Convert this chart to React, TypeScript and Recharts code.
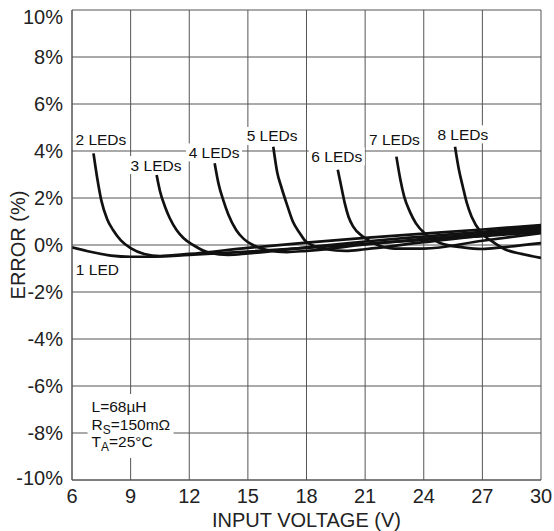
import {
  LineChart,
  Line,
  XAxis,
  YAxis,
  CartesianGrid,
  ReferenceDot,
} from "recharts";

const FONT = '"Liberation Sans", Arial, sans-serif';

const xTicks = [6, 9, 12, 15, 18, 21, 24, 27, 30];
const yTicks = [-10, -8, -6, -4, -2, 0, 2, 4, 6, 8, 10];

// [input voltage (V), error (%)]
const led1 = [
  [6, -0.1], [7, -0.3], [8, -0.45], [9, -0.5], [10, -0.5], [12, -0.42],
  [15, -0.28], [18, -0.12], [21, 0.05], [24, 0.22], [27, 0.38], [30, 0.55],
];
const led2 = [
  [7.1, 3.9], [7.3, 2.8], [7.5, 1.9], [7.8, 1.1], [8.1, 0.64], [8.5, 0.2],
  [9, -0.13], [9.7, -0.38], [10.5, -0.47], [12, -0.38], [15, -0.12],
  [18, 0.1], [21, 0.3], [24, 0.48], [27, 0.66], [30, 0.85],
];
const led3 = [
  [10.33, 2.98], [10.5, 2.3], [10.76, 1.63], [11.0, 1.15], [11.35, 0.64],
  [11.7, 0.3], [12.2, 0], [13.06, -0.34], [14, -0.42], [15, -0.36],
  [18, -0.1], [21, 0.15], [24, 0.36], [27, 0.56], [30, 0.78],
];
const led4 = [
  [13.3, 3.48], [13.5, 2.6], [13.74, 1.91], [14.0, 1.3], [14.4, 0.64],
  [14.8, 0.25], [15.26, 0], [16, -0.22], [17, -0.3], [18, -0.25],
  [21, 0.02], [24, 0.26], [27, 0.48], [30, 0.7],
];
const led5 = [
  [16.3, 4.18], [16.5, 3.1], [16.7, 2.5], [16.98, 1.77], [17.3, 1.0],
  [17.66, 0.5], [17.9, 0.21], [18.4, -0.05], [19, -0.18], [20, -0.25],
  [21, -0.18], [24, 0.12], [27, 0.4], [30, 0.62],
];
const led6 = [
  [19.6, 3.2], [19.8, 2.4], [19.96, 1.77], [20.15, 1.2], [20.39, 0.78],
  [20.9, 0.35], [21.5, 0.05], [22.5, -0.15], [24, -0.15], [27, 0.18],
  [30, 0.5],
];
const led7 = [
  [22.6, 3.76], [22.8, 2.8], [23.0, 2.06], [23.3, 1.4], [23.6, 0.92],
  [24.14, 0.43], [24.8, 0.1], [26, -0.1], [27, -0.17], [28, -0.1],
  [30, 0.08],
];
const led8 = [
  [25.6, 4.18], [25.8, 3.2], [26.0, 2.48], [26.2, 1.8], [26.45, 1.2],
  [26.96, 0.5], [27.5, 0.15], [28.2, -0.2], [29, -0.38], [30, -0.55],
];

const series = [led1, led2, led3, led4, led5, led6, led7, led8];

// curve tags: [label, voltage, error, box width]
const tags: [string, number, number, number][] = [
  ["1 LED", 7.3, -1.06, 44],
  ["2 LEDs", 7.48, 4.47, 56],
  ["3 LEDs", 10.3, 3.4, 56],
  ["4 LEDs", 13.27, 3.94, 56],
  ["5 LEDs", 16.24, 4.64, 56],
  ["6 LEDs", 19.55, 3.77, 56],
  ["7 LEDs", 22.5, 4.5, 56],
  ["8 LEDs", 26.0, 4.71, 56],
];

const toPoints = (s: number[][]) => s.map(([v, e]) => ({ v, e }));

const Tag = (text: string, w: number) => (props: any) => {
  const { cx, cy } = props;
  return (
    <g>
      <rect x={cx - w / 2} y={cy - 9} width={w} height={18} fill="#fff" />
      <text
        x={cx}
        y={cy}
        textAnchor="middle"
        dominantBaseline="central"
        fontSize={15.5}
        fontFamily={FONT}
        fill="#111"
      >
        {text}
      </text>
    </g>
  );
};

const Conditions = (props: any) => {
  const { cx, cy } = props;
  return (
    <g fontFamily={FONT} fontSize={15.5} fill="#111">
      <rect x={cx - 4} y={cy} width={86} height={64} fill="#fff" />
      <text x={cx} y={cy + 18}>L=68µH</text>
      <text x={cx} y={cy + 36}>
        R<tspan fontSize={12} dy={4}>S</tspan>
        <tspan dy={-4}>=150mΩ</tspan>
      </text>
      <text x={cx} y={cy + 53}>
        T<tspan fontSize={12} dy={4}>A</tspan>
        <tspan dy={-4}>=25°C</tspan>
      </text>
    </g>
  );
};

const YTick = (props: any) => {
  const { x, y, payload } = props;
  const shift = payload.value === 10 ? 7 : payload.value === -10 ? -2 : 0;
  return (
    <text
      x={x}
      y={y + shift}
      textAnchor="end"
      dominantBaseline="central"
      fontSize={20}
      fontFamily={FONT}
      fill="#222"
    >
      {payload.value}%
    </text>
  );
};

const XTick = (props: any) => {
  const { x, y, payload } = props;
  return (
    <text
      x={x}
      y={y + 8}
      textAnchor="middle"
      dominantBaseline="central"
      fontSize={20}
      fontFamily={FONT}
      fill="#222"
    >
      {payload.value}
    </text>
  );
};

export default function App() {
  return (
    <div style={{ position: "absolute", left: 0, top: 0, background: "#fff" }}>
      <LineChart
        width={554}
        height={531}
        margin={{ top: 10, right: 13, bottom: 11, left: 12 }}
      >
        <CartesianGrid stroke="#555" strokeWidth={1} />
        <XAxis
          dataKey="v"
          type="number"
          domain={[6, 30]}
          ticks={xTicks}
          allowDataOverflow
          tickLine={false}
          axisLine={{ stroke: "#555" }}
          tick={<XTick />}
          height={40}
          label={{
            content: (p: any) => {
              const vb = p.viewBox;
              return (
                <text
                  x={vb.x + vb.width / 2}
                  y={vb.y + 40}
                  textAnchor="middle"
                  dominantBaseline="central"
                  fontSize={20}
                  fontFamily={FONT}
                  fill="#222"
                >
                  INPUT VOLTAGE (V)
                </text>
              );
            },
          }}
        />
        <YAxis
          type="number"
          domain={[-10, 10]}
          ticks={yTicks}
          allowDataOverflow
          tickLine={false}
          axisLine={{ stroke: "#555" }}
          tick={<YTick />}
          tickMargin={3}
          width={60}
          label={{
            content: (p: any) => {
              const vb = p.viewBox;
              const cx = vb.x + 6;
              const cy = vb.y + vb.height / 2;
              return (
                <text
                  x={cx}
                  y={cy}
                  transform={`rotate(-90 ${cx} ${cy})`}
                  textAnchor="middle"
                  dominantBaseline="central"
                  fontSize={20}
                  fontFamily={FONT}
                  fill="#222"
                >
                  ERROR (%)
                </text>
              );
            },
          }}
        />
        {series.map((s, i) => (
          <Line
            key={i}
            data={toPoints(s)}
            dataKey="e"
            type="monotone"
            stroke="#111"
            strokeWidth={2.7}
            dot={false}
            activeDot={false}
            isAnimationActive={false}
          />
        ))}
        {tags.map(([text, v, e, w]) => (
          <ReferenceDot
            key={text}
            x={v}
            y={e}
            r={0}
            ifOverflow="visible"
            shape={Tag(text, w)}
          />
        ))}
        <ReferenceDot x={7.0} y={-6.34} r={0} ifOverflow="visible" shape={Conditions} />
      </LineChart>
    </div>
  );
}
